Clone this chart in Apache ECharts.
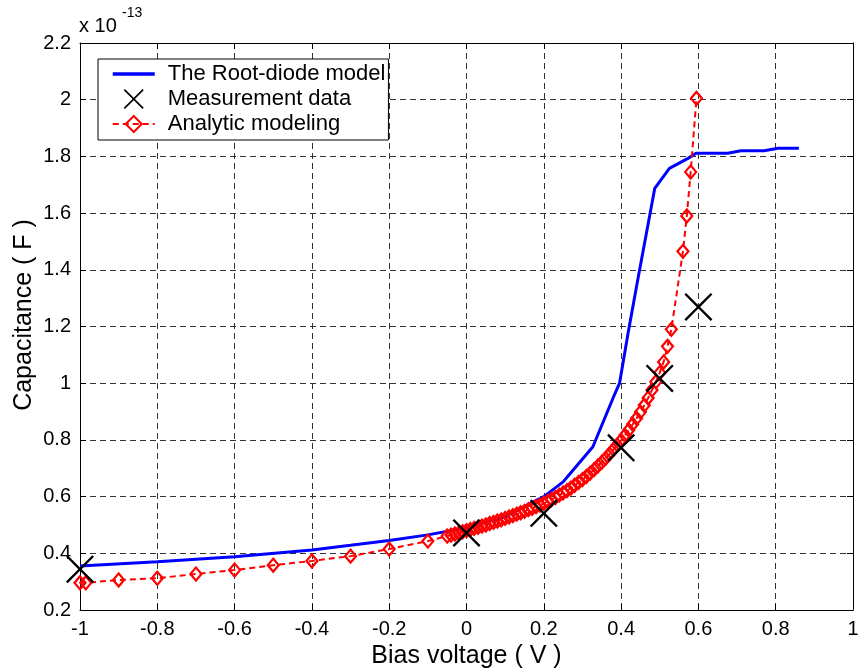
<!DOCTYPE html>
<html>
<head>
<meta charset="utf-8">
<script src="https://cdn.jsdelivr.net/npm/echarts@6/dist/echarts.min.js"></script>
<style>
html,body{margin:0;padding:0;background:#fff;}
#chart{width:858px;height:671px;}
</style>
</head>
<body>
<div id="chart"></div>
<script>
// Values in units of 1e-13 F
const seriesNames = ['The Root-diode model', 'Measurement data', 'Analytic modeling'];

const modelX = [-1, -0.8, -0.6, -0.4, -0.3, -0.2, -0.1, 0, 0.1, 0.2, 0.25, 0.276, 0.327, 0.379, 0.396, 0.418, 0.443, 0.487, 0.525, 0.573, 0.594, 0.676, 0.71, 0.77, 0.806, 0.86];
const modelY = [0.355, 0.37, 0.388, 0.412, 0.428, 0.445, 0.465, 0.49, 0.53, 0.60, 0.652, 0.694, 0.776, 0.947, 1.0, 1.176, 1.364, 1.687, 1.758, 1.793, 1.811, 1.811, 1.82, 1.82, 1.829, 1.829];

const measX = [-1, 0, 0.2, 0.4, 0.5, 0.6];
const measY = [0.344, 0.472, 0.541, 0.772, 1.017, 1.269];

const analyticX = [-1, -0.985, -0.9, -0.8, -0.7, -0.6, -0.5, -0.4, -0.3, -0.2, -0.1,
  -0.05, -0.04, -0.03, -0.02, -0.01, 0, 0.01, 0.02, 0.03, 0.04, 0.05, 0.06, 0.07, 0.08, 0.09,
  0.10, 0.11, 0.12, 0.13, 0.14, 0.15, 0.16, 0.17, 0.18, 0.19, 0.20, 0.21, 0.22, 0.23, 0.24,
  0.25, 0.26, 0.27, 0.28, 0.29, 0.30, 0.31, 0.32, 0.33, 0.34, 0.35, 0.36, 0.37, 0.38, 0.39,
  0.40, 0.41, 0.42, 0.43, 0.44, 0.45, 0.46, 0.47, 0.48, 0.49, 0.50, 0.51, 0.52, 0.53,
  0.56, 0.57, 0.58, 0.595];
const analyticY = [0.296, 0.296, 0.306, 0.312, 0.327, 0.341, 0.358, 0.373, 0.39, 0.415, 0.443,
  0.461, 0.464, 0.468, 0.472, 0.476, 0.480, 0.484, 0.488, 0.492, 0.496, 0.500, 0.505, 0.509, 0.514, 0.518,
  0.523, 0.528, 0.533, 0.538, 0.543, 0.548, 0.554, 0.559, 0.565, 0.570, 0.576, 0.583, 0.590, 0.597, 0.605,
  0.613, 0.621, 0.630, 0.640, 0.650, 0.660, 0.671, 0.683, 0.695, 0.708, 0.721, 0.735, 0.750, 0.766, 0.782,
  0.798, 0.816, 0.835, 0.855, 0.876, 0.898, 0.922, 0.948, 0.976, 1.005, 1.037, 1.075, 1.13, 1.19,
  1.465, 1.59, 1.745, 2.005];

const xTicks = {min: -1, max: 1, interval: 0.2};
const yTicks = {min: 0.2, max: 2.2, interval: 0.2};

const zip = (a, b) => a.map((v, i) => [v, b[i]]);
const fmt = v => String(+v.toFixed(1));
const FONT = '"Liberation Sans", Arial, sans-serif';

const crossPath = 'path://M0,6L6,0L50,44L94,0L100,6L56,50L100,94L94,100L50,56L6,100L0,94L44,50Z';

const chart = echarts.init(document.getElementById('chart'), null, {renderer: 'canvas'});

const gridStyle = {show: true, lineStyle: {color: '#333', width: 1, type: [6, 4]}};
const axisLineStyle = {show: true, onZero: false, lineStyle: {color: '#000', width: 1}};
const tickStyle = {show: true, inside: true, length: 6, lineStyle: {color: '#000', width: 1}};

chart.setOption({
  backgroundColor: '#fff',
  animation: false,
  textStyle: {fontFamily: FONT},
  grid: {left: 80, right: 5, top: 43, bottom: 61, containLabel: false, outerBoundsMode: 'none'},
  legend: {
    orient: 'vertical',
    left: 98,
    top: 59,
    data: [
      {name: seriesNames[0], itemStyle: {color: 'rgba(0,0,0,0)', borderWidth: 0, opacity: 0}, lineStyle: {width: 3.5, color: '#0000ff'}},
      {name: seriesNames[1]},
      {name: seriesNames[2]}
    ],
    backgroundColor: '#fff',
    borderColor: '#000',
    borderWidth: 1,
    borderRadius: 0,
    padding: [4, 3, 5, 13],
    itemGap: 3,
    itemWidth: 42,
    itemHeight: 20,
    textStyle: {fontSize: 22, color: '#000', fontFamily: FONT, padding: [0, 0, 0, 8]}
  },
  xAxis: [{
    type: 'value', ...xTicks,
    name: 'Bias voltage ( V )', nameLocation: 'middle', nameGap: 29,
    nameTextStyle: {fontSize: 25, color: '#000', fontFamily: FONT},
    axisLine: axisLineStyle, axisTick: tickStyle, splitLine: gridStyle,
    axisLabel: {fontSize: 20, color: '#000', margin: 9, formatter: fmt, fontFamily: FONT}
  }, {
    type: 'value', position: 'top', ...xTicks,
    axisLine: axisLineStyle, axisTick: tickStyle, splitLine: {show: false},
    axisLabel: {show: false}
  }],
  yAxis: [{
    type: 'value', ...yTicks,
    axisLine: axisLineStyle, axisTick: tickStyle, splitLine: gridStyle,
    axisLabel: {fontSize: 20, color: '#000', margin: 9, formatter: fmt, fontFamily: FONT}
  }, {
    type: 'value', position: 'right', ...yTicks,
    axisLine: axisLineStyle, axisTick: tickStyle, splitLine: {show: false},
    axisLabel: {show: false}
  }],
  graphic: [
    {type: 'text', left: 79, top: 16, style: {text: 'x 10', font: '20px ' + FONT, fill: '#000'}},
    {type: 'text', left: 122, top: 6, style: {text: '-13', font: '14px ' + FONT, fill: '#000'}},
    {type: 'text', x: 24, y: 315, rotation: Math.PI / 2,
      style: {text: 'Capacitance ( F )', font: '25px ' + FONT, fill: '#000', align: 'center', verticalAlign: 'middle'}}
  ],
  series: [{
    name: seriesNames[0],
    type: 'line',
    data: zip(modelX, modelY),
    showSymbol: false,
    symbol: 'none',
    z: 2,
    lineStyle: {color: '#0000ff', width: 3},
    itemStyle: {color: '#0000ff'}
  }, {
    name: seriesNames[1],
    type: 'scatter',
    data: zip(measX, measY),
    symbol: crossPath,
    symbolSize: 28,
    clip: false,
    z: 4,
    itemStyle: {color: '#000', opacity: 1}
  }, {
    name: seriesNames[2],
    type: 'line',
    data: zip(analyticX, analyticY),
    symbol: 'diamond',
    symbolSize: [11, 13],
    showAllSymbol: true,
    clip: false,
    z: 3,
    lineStyle: {color: '#ff0000', width: 2, type: [6, 4]},
    itemStyle: {color: 'rgba(255,255,255,0)', borderColor: '#ff0000', borderWidth: 2.2}
  }]
});
</script>
</body>
</html>
